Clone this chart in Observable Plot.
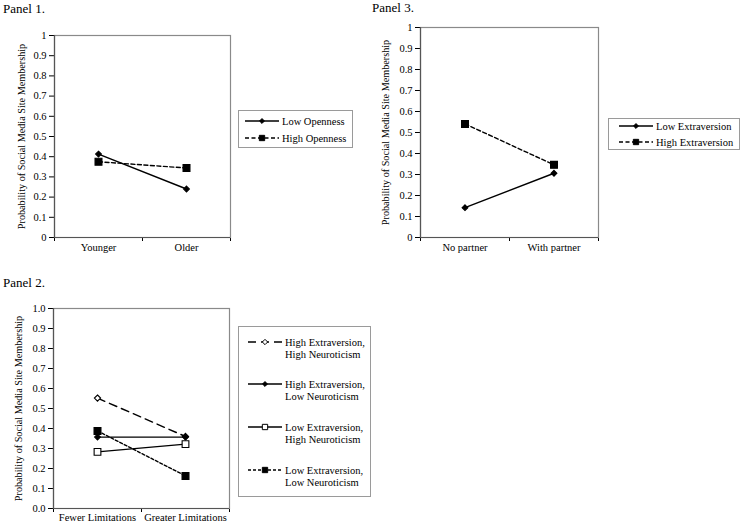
<!DOCTYPE html>
<html>
<head>
<meta charset="utf-8">
<script src="https://cdn.jsdelivr.net/npm/d3@7"></script>
<script src="https://cdn.jsdelivr.net/npm/@observablehq/plot@0.6"></script>
<style>
  body { margin: 0; background: #fff; }
  #root { position: relative; width: 743px; height: 525px; background: #fff; font-family: 'Liberation Serif', 'Times New Roman', serif; color: #000; overflow: hidden; }
  .abs { position: absolute; }
  .ptitle { position: absolute; font-size: 13px; line-height: 1; z-index: 5; }
</style>
</head>
<body>
<div id="root"></div>
<script>
// ---------- DATA ----------
const yTitle = "Probability of Social Media Site Membership";

const p1Categories = ["Younger", "Older"];
const p1Series = ["Low Openness", "High Openness"];
const p1Low = [0.413, 0.24];
const p1High = [0.375, 0.344];

const p3Categories = ["No partner", "With partner"];
const p3Series = ["Low Extraversion", "High Extraversion"];
const p3Low = [0.142, 0.306];
const p3High = [0.541, 0.346];

const p2Categories = ["Fewer Limitations", "Greater Limitations"];
const p2Series = [
  "High Extraversion, High Neuroticism",
  "High Extraversion, Low Neuroticism",
  "Low Extraversion, High Neuroticism",
  "Low Extraversion, Low Neuroticism"
];
const p2HEHN = [0.552, 0.36];
const p2HELN = [0.357, 0.357];
const p2LEHN = [0.283, 0.322];
const p2LELN = [0.388, 0.163];

const yTicks = d3.range(0, 11).map(i => i / 10);

// ---------- STYLES ----------
const FONT = "'Liberation Serif', 'Times New Roman', serif";
const styleSolidDiamond = {dash: null, symbol: "diamond2", fill: "black", r: 2.6, lr: 2.2};
const styleDashSquare = {dash: "4,2.5", symbol: "square", fill: "black", r: 3.9, lr: 3.0};
const styleLongDashOpenDiamond = {dash: "8,5", symbol: "diamond2", fill: "white", r: 2.8, lr: 2.4};
const styleSolidOpenSquare = {dash: null, symbol: "square", fill: "white", r: 3.8, lr: 3.0};
const styleDotSquare = {dash: "3,2", symbol: "square", fill: "black", r: 3.9, lr: 3.0};

const root = document.getElementById("root");

function rows(categories, values, name) {
  return values.map((v, i) => ({x: i + 0.5, y: v, cat: categories[i], series: name}));
}

function panel({categories, series, left, top, width, height, margins, fmt, titleDx, labelDy}) {
  const marks = [
    Plot.frame({stroke: "#8a8a8a", strokeWidth: 1.2}),
    Plot.ruleX([0], {stroke: "#555", strokeWidth: 1.2}),
    Plot.ruleY([0], {stroke: "#555", strokeWidth: 1.2}),
    Plot.text(categories, {x: (d, i) => i + 0.5, frameAnchor: "bottom", lineAnchor: "top", dy: labelDy, fontSize: 10.5}),
    Plot.text([yTitle], {frameAnchor: "left", rotate: -90, textAnchor: "middle", lineAnchor: "middle", dx: titleDx, fontSize: 10.2})
  ];
  series.forEach(s => {
    marks.push(Plot.line(s.data, {x: "x", y: "y", stroke: "black", strokeWidth: 1.4, strokeDasharray: s.style.dash || undefined}));
  });
  series.forEach(s => {
    marks.push(Plot.dot(s.data, {x: "x", y: "y", symbol: () => s.style.symbol, r: s.style.r, fill: s.style.fill, stroke: "black", strokeWidth: 1.1}));
  });
  const chart = Plot.plot({
    width, height,
    marginLeft: margins[0], marginRight: margins[1], marginTop: margins[2], marginBottom: margins[3],
    style: {fontFamily: FONT, fontSize: "10.5px", background: "transparent", color: "black"},
    x: {domain: [0, categories.length], ticks: d3.range(0, categories.length + 1), tickFormat: () => "", tickSize: 4, label: null},
    y: {domain: [0, 1], ticks: yTicks, tickFormat: fmt, tickSize: 5, tickPadding: 3, label: null},
    symbol: {range: ["diamond2", "square"]},
    marks
  });
  chart.style.position = "absolute";
  chart.style.left = left + "px";
  chart.style.top = top + "px";
  root.appendChild(chart);
}

function legend({entries, left, top, width, height, rowYs, lineX0, lineX1, textX, lineGap}) {
  const svg = d3.select(root).append("svg")
    .attr("class", "abs")
    .style("left", left + "px").style("top", top + "px")
    .attr("width", width).attr("height", height)
    .style("font-family", FONT).style("font-size", "10.5px");
  svg.append("rect").attr("x", 0.5).attr("y", 0.5).attr("width", width - 1).attr("height", height - 1)
    .attr("fill", "white").attr("stroke", "#9a9a9a").attr("stroke-width", 1);
  entries.forEach((e, i) => {
    const y = rowYs[i];
    svg.append("line").attr("x1", lineX0).attr("x2", lineX1).attr("y1", y).attr("y2", y)
      .attr("stroke", "black").attr("stroke-width", 1.4)
      .attr("stroke-dasharray", e.style.dash || null);
    const sym = e.style.symbol === "square" ? d3.symbolSquare : d3.symbolDiamond2;
    svg.append("path").attr("d", d3.symbol(sym, Math.PI * e.style.lr * e.style.lr)())
      .attr("transform", `translate(${(lineX0 + lineX1) / 2},${y})`)
      .attr("fill", e.style.fill).attr("stroke", "black").attr("stroke-width", 1);
    const lines = e.label.split(/(?<=,) /);
    lines.forEach((t, k) => {
      svg.append("text").attr("x", textX).attr("y", y + k * lineGap).attr("dy", "0.35em").text(t);
    });
  });
}

function ptitle(text, left, top) {
  const d = document.createElement("div");
  d.className = "ptitle";
  d.style.left = left + "px";
  d.style.top = top + "px";
  d.textContent = text;
  root.appendChild(d);
}

// ---------- PANEL 1 ----------
const p1Styles = [styleSolidDiamond, styleDashSquare];
panel({
  categories: p1Categories,
  series: [
    {data: rows(p1Categories, p1Low, p1Series[0]), style: p1Styles[0]},
    {data: rows(p1Categories, p1High, p1Series[1]), style: p1Styles[1]}
  ],
  left: 0, top: 0, width: 240, height: 262, margins: [54, 10, 35, 25],
  fmt: d => String(+d.toFixed(1)), titleDx: -33, labelDy: 6
});
legend({
  entries: p1Series.map((s, i) => ({label: s, style: p1Styles[i]})),
  left: 238, top: 110, width: 115, height: 38, rowYs: [11, 28],
  lineX0: 7, lineX1: 41, textX: 44, lineGap: 12.5
});

// ---------- PANEL 3 ----------
const p3Styles = [styleSolidDiamond, styleDashSquare];
panel({
  categories: p3Categories,
  series: [
    {data: rows(p3Categories, p3Low, p3Series[0]), style: p3Styles[0]},
    {data: rows(p3Categories, p3High, p3Series[1]), style: p3Styles[1]}
  ],
  left: 370, top: 0, width: 240, height: 262, margins: [50, 12, 27, 25],
  fmt: d => String(+d.toFixed(1)), titleDx: -35, labelDy: 6
});
legend({
  entries: p3Series.map((s, i) => ({label: s, style: p3Styles[i]})),
  left: 608, top: 118, width: 132, height: 32, rowYs: [8, 24],
  lineX0: 11, lineX1: 45, textX: 48, lineGap: 12.5
});

// ---------- PANEL 2 ----------
const p2Styles = [styleLongDashOpenDiamond, styleSolidDiamond, styleSolidOpenSquare, styleDotSquare];
const p2Values = [p2HEHN, p2HELN, p2LEHN, p2LELN];
panel({
  categories: p2Categories,
  series: p2Series.map((s, i) => ({data: rows(p2Categories, p2Values[i], s), style: p2Styles[i]})),
  left: 0, top: 260, width: 240, height: 265, margins: [53, 11, 48, 17],
  fmt: d3.format(".1f"), titleDx: -35, labelDy: 5
});
legend({
  entries: p2Series.map((s, i) => ({label: s, style: p2Styles[i]})),
  left: 238, top: 326, width: 133, height: 171, rowYs: [16, 58, 101, 144],
  lineX0: 10, lineX1: 44, textX: 47, lineGap: 12.5
});

// ---------- PANEL TITLES ----------
ptitle("Panel 1.", 3, 2);
ptitle("Panel 3.", 372, 1);
ptitle("Panel 2.", 3, 276);
</script>
</body>
</html>
